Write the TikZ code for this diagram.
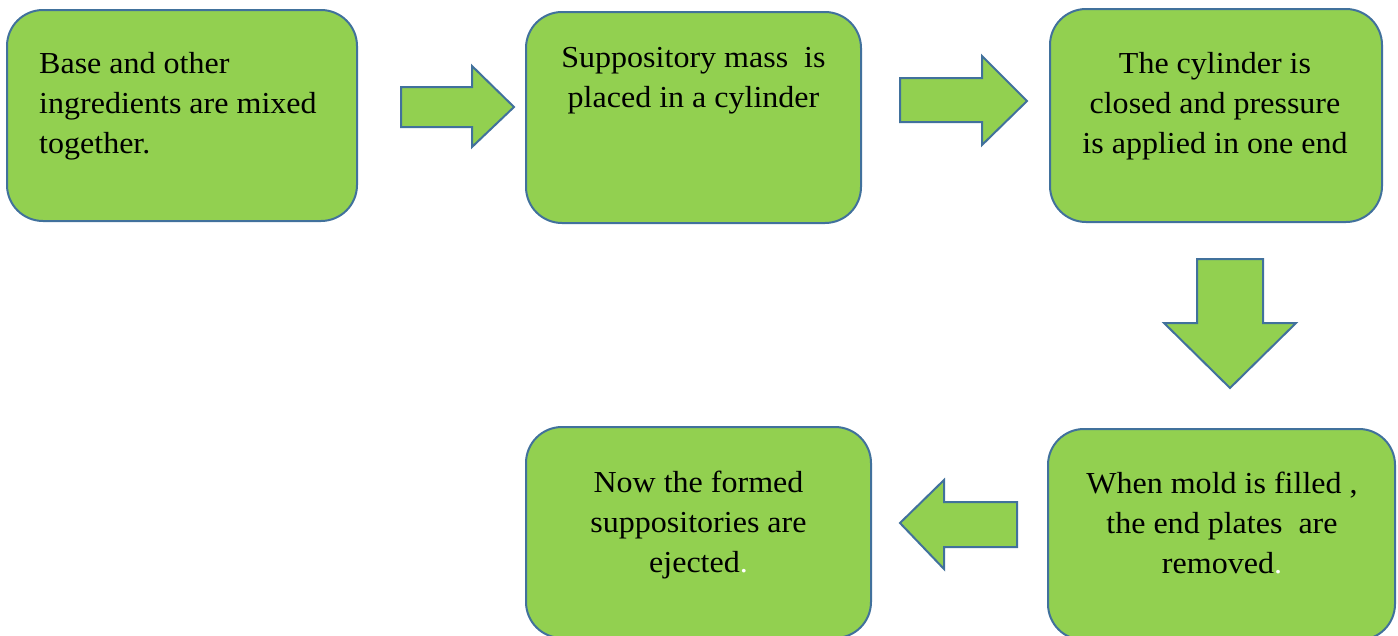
\documentclass[tikz,border=0pt]{standalone}
\usepackage{fontspec}
\setmainfont{Liberation Serif}[FakeStretch=1.05]
\usepackage{tikz}

\definecolor{boxgreen}{HTML}{92D050}
\definecolor{boxblue}{HTML}{41719C}

\tikzset{
  stepbox/.style={draw=boxblue, fill=boxgreen, line width=2pt, rounded corners=36pt, inner sep=0pt, minimum height=211pt},
  steptext/.style={inner sep=0pt, font=\fontsize{30.5}{40}\selectfont},
  blockarrow/.style={draw=boxblue, fill=boxgreen, line width=2pt, line join=miter}
}

\begin{document}
\begin{tikzpicture}[x=1pt,y=-1pt]
    \useasboundingbox (0,0) rectangle (1398,635);

    \node[stepbox, minimum width=350pt] (mix) at (182,115.5) {};
    \node[stepbox, minimum width=335pt] (fill) at (693.5,117.5) {};
    \node[stepbox, minimum width=332pt, minimum height=213pt] (press) at (1216,115.5) {};
    \node[stepbox, minimum width=347pt] (remove) at (1221.5,534.5) {};
    \node[stepbox, minimum width=345pt] (eject) at (698.5,532.5) {};

    \node[steptext, anchor=base west, align=left] (mixtext) at (39,153) {Base and other\\ingredients are mixed\\together.};
    \node[steptext, anchor=base, align=center] (filltext) at (693.5,107) {Suppository mass\ \ is\\placed in a cylinder};
    \node[steptext, anchor=base, align=center] (presstext) at (1215,153) {The cylinder is\\closed and pressure\\is applied in one end};
    \node[steptext, anchor=base, align=center] (removetext) at (1222,573) {When mold is filled ,\\the end plates\ \ are\\removed{\color{white}.}};
    \node[steptext, anchor=base, align=center] (ejecttext) at (698.5,572) {Now the formed\\suppositories are\\ejected{\color{white}.}};

    \draw[blockarrow] (401,87) -- (472,87) -- (472,66) -- (514,107) -- (472,147) -- (472,127) -- (401,127) -- cycle;
    \draw[blockarrow] (900,78) -- (982,78) -- (982,56) -- (1027,101) -- (982,145) -- (982,122) -- (900,122) -- cycle;
    \draw[blockarrow] (1197,259) -- (1263,259) -- (1263,323) -- (1296,323) -- (1230,388) -- (1164,323) -- (1197,323) -- cycle;
    \draw[blockarrow] (1017,502) -- (944,502) -- (944,480) -- (900,523) -- (944,569) -- (944,547) -- (1017,547) -- cycle;
\end{tikzpicture}
\end{document}
